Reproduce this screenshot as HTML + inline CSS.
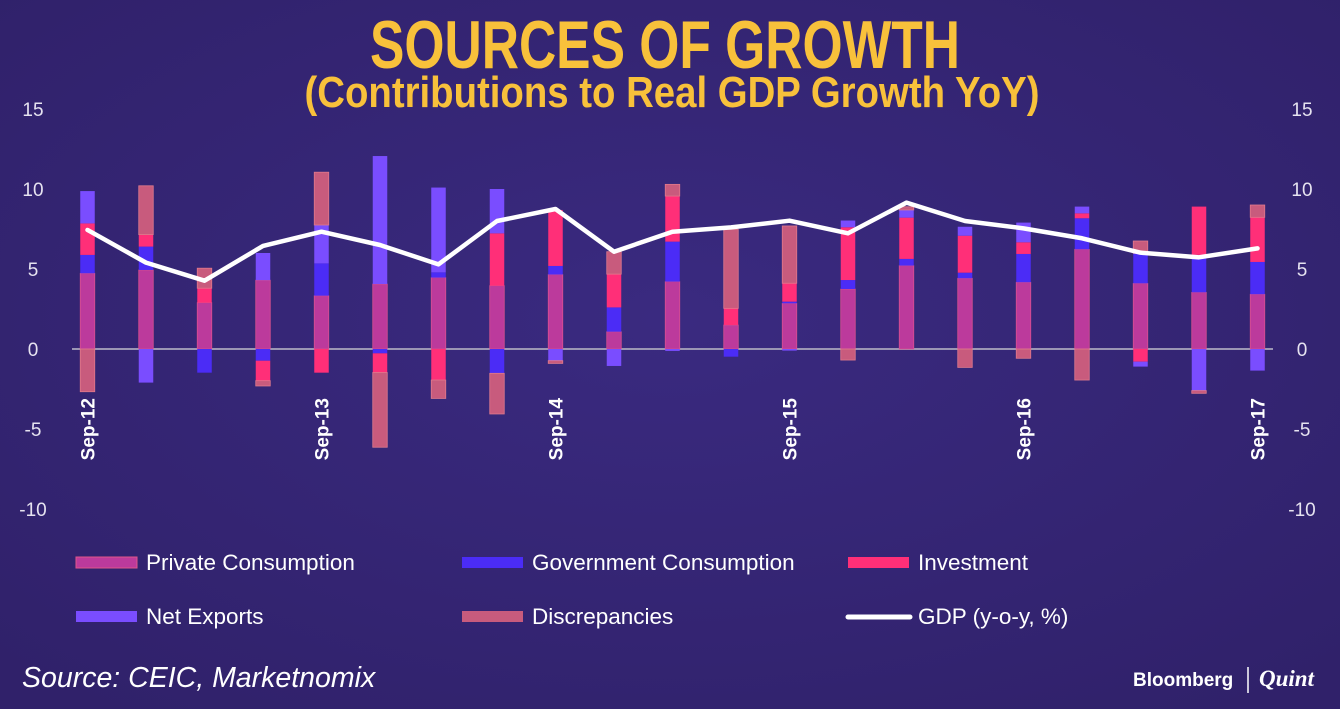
<!DOCTYPE html>
<html><head><meta charset="utf-8"><style>
html,body{margin:0;padding:0;}
body{width:1340px;height:709px;overflow:hidden;background:#33236f;}
svg{display:block;}
</style></head><body>
<svg id="chart" width="1340" height="709" xmlns="http://www.w3.org/2000/svg" font-family="Liberation Sans, sans-serif">
<defs>
<radialGradient id="bg" cx="50%" cy="45%" r="70%">
<stop offset="0" stop-color="#3a2a80"/><stop offset="1" stop-color="#30216a"/>
</radialGradient>
</defs>
<rect x="0" y="0" width="1340" height="709" fill="url(#bg)"/>
<text x="665" y="68" text-anchor="middle" font-size="68" font-weight="bold" fill="#f8c13b" textLength="590" lengthAdjust="spacingAndGlyphs">SOURCES OF GROWTH</text>
<text x="672" y="107" text-anchor="middle" font-size="44" font-weight="bold" fill="#f8c13b" textLength="735" lengthAdjust="spacingAndGlyphs">(Contributions to  Real GDP Growth YoY)</text>
<g id="axes"></g>
<g id="bars"></g>
<g id="line"></g>
<g id="legend">
<rect x="76" y="557" width="61" height="11" fill="#bc3a9c" stroke="#e0558a" stroke-width="1"/>
<text x="146" y="570" font-size="22.5" fill="#ffffff">Private Consumption</text>
<rect x="462" y="557" width="61" height="11" fill="#4b2cf6"/>
<text x="532" y="570" font-size="22.5" fill="#ffffff">Government Consumption</text>
<rect x="848" y="557" width="61" height="11" fill="#ff2f78"/>
<text x="918" y="570" font-size="22.5" fill="#ffffff">Investment</text>
<rect x="76" y="611" width="61" height="11" fill="#7a4dff"/>
<text x="146" y="624" font-size="22.5" fill="#ffffff">Net Exports</text>
<rect x="462" y="611" width="61" height="11" fill="#c85b7d"/>
<text x="532" y="624" font-size="22.5" fill="#ffffff">Discrepancies</text>
<line x1="848" y1="617" x2="910" y2="617" stroke="#ffffff" stroke-width="5" stroke-linecap="round"/>
<text x="918" y="624" font-size="22.5" fill="#ffffff">GDP (y-o-y, %)</text>
</g>
<text x="22" y="687" font-size="28.5" font-style="italic" fill="#ffffff">Source: CEIC, Marketnomix</text>
<text x="1133" y="686" font-size="19" font-weight="bold" fill="#ffffff">Bloomberg</text>
<line x1="1248" y1="667" x2="1248" y2="693" stroke="#ffffff" stroke-width="1.5"/>
<text x="1259" y="686" font-size="23" font-style="italic" font-weight="bold" font-family="Liberation Serif, serif" fill="#ffffff">Quint</text>
</svg>
<script>
const categories = ["Sep-12","Dec-12","Mar-13","Jun-13","Sep-13","Dec-13","Mar-14","Jun-14","Sep-14","Dec-14","Mar-15","Jun-15","Sep-15","Dec-15","Mar-16","Jun-16","Sep-16","Dec-16","Mar-17","Jun-17","Sep-17"];
const privateConsumption = [4.73,4.94,2.9,4.3,3.33,4.06,4.46,3.96,4.65,1.08,4.21,1.5,2.85,3.75,5.21,4.42,4.17,6.23,4.1,3.54,3.42];
const governmentConsumption = [1.15,1.46,-1.48,-0.73,2.02,-0.27,0.33,-1.52,0.54,1.52,2.5,-0.48,0.11,0.56,0.42,0.35,1.77,1.94,1.88,2.34,2.02];
const investment = [1.97,0.75,0.9,-1.25,-1.48,-1.2,-1.94,3.27,3.5,2.08,2.85,1.04,1.15,3.3,2.58,2.31,0.73,0.31,-0.79,3.02,2.79];
const netExports = [2.02,-2.1,0,1.7,2.4,8.0,5.3,2.77,-0.73,-1.06,-0.12,0,-0.1,0.42,0.48,0.56,1.23,0.42,-0.31,-2.6,-1.35];
const discrepancies = [-2.67,3.05,1.25,-0.33,3.3,-4.67,-1.15,-2.54,-0.17,1.4,0.73,4.94,3.58,-0.69,0.2,-1.15,-0.58,-1.94,0.77,-0.17,0.77];
const gdp = [7.44,5.4,4.27,6.44,7.33,6.5,5.29,8.0,8.75,6.08,7.33,7.6,8.02,7.23,9.15,8.0,7.54,6.92,6.02,5.73,6.29];
const yTicks = [15,10,5,0,-5,-10];
const xLabelIdx = [0,4,8,12,16,20];

const NS="http://www.w3.org/2000/svg";
const x0=87.5, dx=58.5, yZero=349, yUnit=16, barW=14.5;
function xs(i){return x0+i*dx;}
function ys(v){return yZero-v*yUnit;}
function mk(tag,attrs,parent){const e=document.createElementNS(NS,tag);for(const k in attrs)e.setAttribute(k,attrs[k]);parent.appendChild(e);return e;}

const axes=document.getElementById('axes');
yTicks.forEach(t=>{
  const l=mk('text',{x:33,y:ys(t)+7,'text-anchor':'middle','font-size':19,fill:'#e6e3f0'},axes);
  
  
  l.textContent=t;
  const r=mk('text',{x:1302,y:ys(t)+7,'text-anchor':'middle','font-size':19,fill:'#e6e3f0'},axes);
  
  
  r.textContent=t;
});

const series=[
  {name:'private-consumption',vals:privateConsumption,fill:'#bc3a9c',stroke:'#d9508f'},
  {name:'government-consumption',vals:governmentConsumption,fill:'#4b2cf6',stroke:'none'},
  {name:'investment',vals:investment,fill:'#ff2f78',stroke:'none'},
  {name:'net-exports',vals:netExports,fill:'#7a4dff',stroke:'none'},
  {name:'discrepancies',vals:discrepancies,fill:'#c85b7d',stroke:'#e07a8c'}
];
const bars=document.getElementById('bars');
categories.forEach((c,i)=>{
  let pos=0,neg=0;
  series.forEach(s=>{
    const v=s.vals[i]; if(!v) return;
    let a,b;
    if(v>0){a=pos;b=pos+v;pos=b;}else{a=neg+v;b=neg;neg=a;}
    const r=mk('rect',{x:xs(i)-barW/2,y:ys(b),width:barW,height:(b-a)*yUnit,fill:s.fill,stroke:s.stroke,'stroke-width':0.8},bars);
    
    
  });
});
const zl=mk('line',{x1:72,y1:yZero,x2:1273,y2:yZero,stroke:'#9b96b4','stroke-width':2},axes);



xLabelIdx.forEach(i=>{
  const t=mk('text',{x:0,y:0,'text-anchor':'end','font-size':19,'font-weight':'bold',fill:'#ffffff',transform:`translate(${xs(i)+7},398) rotate(-90)`},axes);
  
  
  t.textContent=categories[i];
});

const line=document.getElementById('line');
const pts=gdp.map((v,i)=>xs(i)+','+ys(v)).join(' ');
const pl=mk('polyline',{points:pts,fill:'none',stroke:'#ffffff','stroke-width':4.5,'stroke-linejoin':'round','stroke-linecap':'round'},line);


</script>
</body></html>
